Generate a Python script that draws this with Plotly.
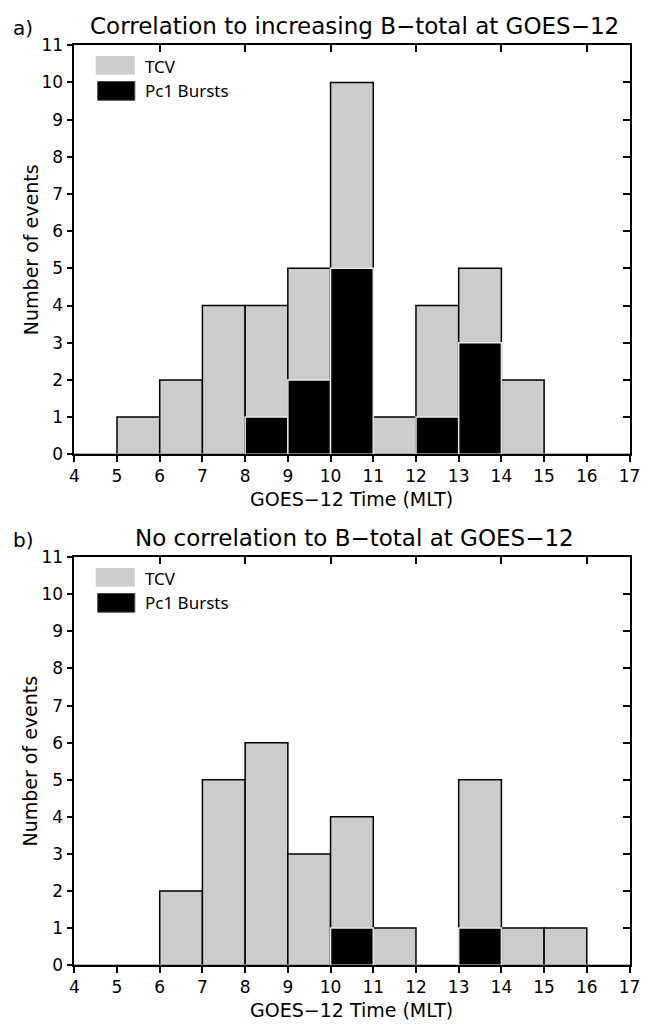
import plotly.graph_objects as go

# ---- data ----
bin_starts = [4, 5, 6, 7, 8, 9, 10, 11, 12, 13, 14, 15, 16]
tcv_a = [0, 1, 2, 4, 4, 5, 10, 1, 4, 5, 2, 0, 0]
pc1_a = [0, 0, 0, 0, 1, 2, 5, 0, 1, 3, 0, 0, 0]
tcv_b = [0, 0, 2, 5, 6, 3, 4, 1, 0, 5, 1, 1, 0]
pc1_b = [0, 0, 0, 0, 0, 0, 1, 0, 0, 1, 0, 0, 0]
x_ticks = list(range(4, 18))
y_ticks = list(range(0, 12))
title_a = "Correlation to increasing B\u2212total at GOES\u221212"
title_b = "No correlation to B\u2212total at GOES\u221212"
x_label = "GOES\u221212 Time (MLT)"
y_label = "Number of events"

W, H = 662, 1036
centers = [b + 0.5 for b in bin_starts]

GRAY = "#cccccc"
TFONT = "DejaVu Sans"
LFONT = "Noto Sans"

fig = go.Figure()

panels = [
    dict(tcv=tcv_a, pc1=pc1_a, xa="x", ya="y", top=36, bot=453, title=title_a, tag="a)"),
    dict(tcv=tcv_b, pc1=pc1_b, xa="x2", ya="y2", top=558, bot=974, title=title_b, tag="b)"),
]
L, R = 71, 640

for p in panels:
    fig.add_trace(go.Bar(x=centers, y=p["tcv"], width=1, xaxis=p["xa"], yaxis=p["ya"],
                         marker=dict(color=GRAY, line=dict(color="black", width=1.5)),
                         name="TCV", showlegend=False))
    fig.add_trace(go.Bar(x=centers, y=p["pc1"], width=1, xaxis=p["xa"], yaxis=p["ya"],
                         marker=dict(color="black", line=dict(color="#e6e6e6", width=1.5)),
                         name="Pc1 Bursts", showlegend=False))

layout = dict(width=W, height=H, margin=dict(l=0, r=0, t=0, b=0),
              paper_bgcolor="white", plot_bgcolor="white", barmode="overlay",
              showlegend=False)

xdom = [L / W, R / W]
annotations = []
shapes = []
for i, p in enumerate(panels):
    ydom = [1 - p["bot"] / H, 1 - p["top"] / H]
    n = "" if i == 0 else "2"
    xo = "x" + n
    yo = "y" + n
    top_x = "xaxis" + str(3 + 2 * i)
    right_y = "yaxis" + str(3 + 2 * i)
    layout["xaxis" + n] = dict(domain=xdom, anchor=yo, range=[4, 17], tickvals=x_ticks,
                               ticks="outside", ticklen=6, tickwidth=1.5, tickcolor="black",
                               showline=True, linecolor="black", linewidth=1.5,
                               showgrid=False, zeroline=False,
                               tickfont=dict(family=TFONT, size=17, color="black"))
    layout["yaxis" + n] = dict(domain=ydom, anchor=xo, range=[0, 11], tickvals=y_ticks,
                               ticks="outside", ticklen=6, tickwidth=1.5, tickcolor="black",
                               showline=True, linecolor="black", linewidth=1.5,
                               showgrid=False, zeroline=False,
                               tickfont=dict(family=TFONT, size=17, color="black"))
    layout[top_x] = dict(domain=xdom, overlaying=xo, anchor=yo, side="top", range=[4, 17],
                         tickvals=[6, 8, 10, 12, 14, 16], ticks="inside", ticklen=7,
                         tickwidth=1.5, tickcolor="black", showticklabels=False,
                         showline=True, linecolor="black", linewidth=1.5, showgrid=False,
                         zeroline=False)
    layout[right_y] = dict(domain=ydom, overlaying=yo, anchor=xo, side="right", range=[0, 11],
                           tickvals=y_ticks, ticks="inside", ticklen=7, tickwidth=1.5,
                           tickcolor="black", showticklabels=False, showline=True,
                           linecolor="black", linewidth=1.5, showgrid=False, zeroline=False)
    # titles
    annotations.append(dict(text=p["title"], xref="paper", yref="paper",
                            x=(L + R) / 2 / W + 0.004, y=1 - (p["top"] - 20) / H,
                            xanchor="center", yanchor="middle", showarrow=False,
                            font=dict(family=TFONT, size=23, color="black")))
    annotations.append(dict(text=p["tag"], xref="paper", yref="paper",
                            x=6 / W, y=1 - (p["top"] - 18) / H,
                            xanchor="left", yanchor="middle", showarrow=False,
                            font=dict(family=TFONT, size=20, color="black")))
    annotations.append(dict(text=x_label, xref="paper", yref="paper",
                            x=(L + R) / 2 / W, y=1 - (p["bot"] + 46) / H,
                            xanchor="center", yanchor="middle", showarrow=False,
                            font=dict(family=TFONT, size=19, color="black")))
    annotations.append(dict(text=y_label, xref="paper", yref="paper",
                            x=26 / W, y=1 - (p["top"] + p["bot"]) / 2 / H, textangle=-90,
                            xanchor="center", yanchor="middle", showarrow=False,
                            font=dict(family=TFONT, size=19, color="black")))

    # manual legend (pixel offsets inside the panel)
    def px2dx(px):
        return (px - L) / (R - L)

    def py2dy(py, top=p["top"], bot=p["bot"]):
        return (bot - (py - 36 + top)) / (bot - top)

    shapes.append(dict(type="rect", xref=xo + " domain", yref=yo + " domain",
                       x0=px2dx(93), x1=px2dx(133), y0=py2dy(66), y1=py2dy(47),
                       fillcolor=GRAY, line=dict(width=0)))
    shapes.append(dict(type="rect", xref=xo + " domain", yref=yo + " domain",
                       x0=px2dx(95), x1=px2dx(133), y0=py2dy(92), y1=py2dy(73),
                       fillcolor="black", line=dict(color="#444", width=1)))
    annotations.append(dict(text="TCV", xref=xo + " domain", yref=yo + " domain",
                            x=px2dx(141), y=py2dy(58), xanchor="left", yanchor="middle",
                            showarrow=False, font=dict(family=LFONT, size=17, color="black")))
    annotations.append(dict(text="Pc1 Bursts", xref=xo + " domain", yref=yo + " domain",
                            x=px2dx(141), y=py2dy(82), xanchor="left", yanchor="middle",
                            showarrow=False, font=dict(family=LFONT, size=17, color="black")))

layout["annotations"] = annotations
layout["shapes"] = shapes
fig.update_layout(**layout)

# dummy traces to activate the mirror axes
fig.add_trace(go.Scatter(x=[None], y=[None], xaxis="x3", yaxis="y3", showlegend=False, hoverinfo="skip"))
fig.add_trace(go.Scatter(x=[None], y=[None], xaxis="x5", yaxis="y5", showlegend=False, hoverinfo="skip"))

fig.write_html("out.html")
